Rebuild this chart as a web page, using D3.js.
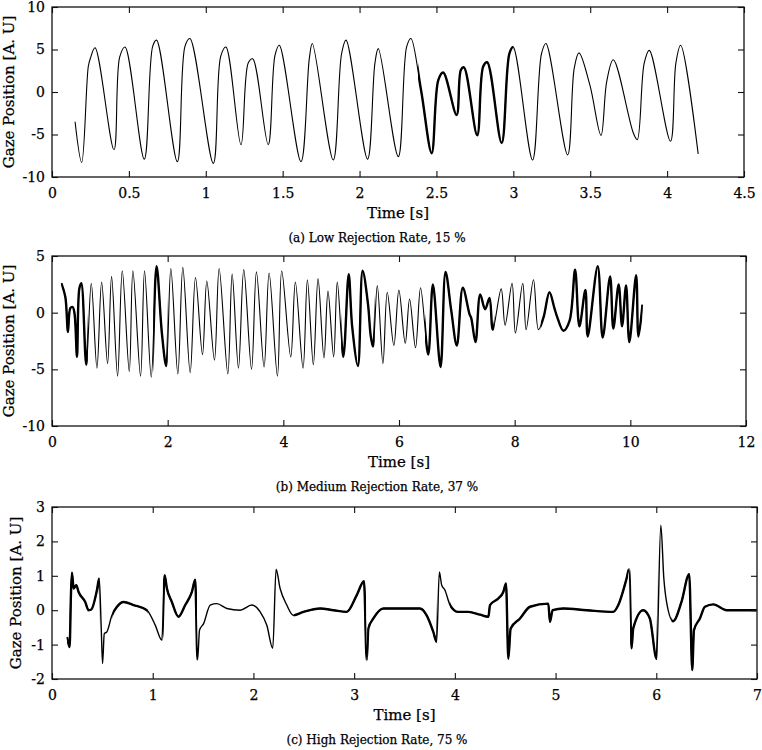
<!DOCTYPE html>
<html>
<head>
<meta charset="utf-8">
<script src="https://cdn.jsdelivr.net/npm/d3@7"></script>
<style>
    body { margin: 0; background: #fff; }
    svg { font-family: 'DejaVu Serif', serif; }
    svg text { stroke: #000; stroke-width: 0.25px; }
</style>
</head>
<body>
<svg id="chart" width="762" height="750"></svg>
<script>
// panel (a) - low rejection rate
const aTime = [0.15, 0.193, 0.236, 0.25, 0.28, 0.403, 0.44, 0.475, 0.60, 0.655, 0.68, 0.815, 0.865, 0.897,
    1.049, 1.097, 1.131, 1.229, 1.276, 1.305, 1.406, 1.45, 1.478, 1.619, 1.673, 1.693, 1.829, 1.883, 1.912,
    2.052, 2.10, 2.122, 2.252, 2.306, 2.334, 2.40, 2.469, 2.512, 2.544, 2.631, 2.659, 2.679, 2.765, 2.804, 2.83,
    2.924, 2.974, 2.999, 3.125, 3.183, 3.212, 3.353, 3.396, 3.427, 3.498, 3.57, 3.607, 3.65, 3.78, 3.806,
    3.851, 3.884, 4.022, 4.057, 4.088, 4.202];
const aGaze = [-3.5, -8.3, 3.0, 4.0, 5.2, -6.8, 4.1, 5.3, -7.9, 5.4, 6.1, -8.2, 5.4, 6.3,
    -8.4, 4.2, 5.3, -6.2, 3.4, 3.9, -6.2, 4.3, 5.5, -8.2, 3.9, 5.7, -8.0, 4.5, 6.1,
    -7.9, 3.4, 5.1, -7.6, 5.3, 6.3, 0.2, -7.2, 1.4, 2.3, -2.7, 2.6, 2.9, -5.1, 3.0, 3.5,
    -6.0, 4.5, 5.3, -8.0, 4.5, 5.7, -7.4, 2.8, 4.6, 0.8, -5.1, 1.2, 3.8, -4.8, -5.6,
    3.4, 4.9, -5.8, 3.4, 5.5, -7.3];
const aThick = [[2.38, 3.0]];
const aXTicks = [0, 0.5, 1, 1.5, 2, 2.5, 3, 3.5, 4, 4.5];
const aYTicks = [-10, -5, 0, 5, 10];

// panel (b) - medium rejection rate
const bTime = [0.161, 0.23, 0.276, 0.317, 0.357, 0.39, 0.432, 0.472, 0.507, 0.593, 0.679, 0.777, 0.858, 0.961,
    1.03, 1.134, 1.215, 1.336, 1.399, 1.531, 1.60, 1.716, 1.808, 1.90, 1.975, 2.055, 2.176, 2.262, 2.389,
    2.481, 2.602, 2.677, 2.809, 2.89, 3.04, 3.115, 3.224, 3.316, 3.45, 3.535, 3.667, 3.754, 3.898, 3.972,
    4.128, 4.208, 4.341, 4.416, 4.519, 4.60, 4.703, 4.772, 4.87, 4.933, 5.037, 5.13, 5.19, 5.29, 5.371,
    5.463, 5.51, 5.55, 5.625, 5.722, 5.797, 5.911, 5.998, 6.108, 6.183, 6.286, 6.373, 6.505, 6.586, 6.718,
    6.805, 6.903, 7.0, 7.103, 7.218, 7.25, 7.323, 7.404, 7.489, 7.565, 7.622, 7.767, 7.834, 7.955, 8.013,
    8.14, 8.198, 8.325, 8.411, 8.50, 8.601, 8.687, 8.73, 8.843, 8.95, 9.045, 9.119, 9.223, 9.263, 9.436,
    9.522, 9.65, 9.706, 9.798, 9.857, 9.926, 9.983, 10.1, 10.14, 10.21];
const bGaze = [2.6, 1.4, -1.7, 0.4, 0.5, -0.1, -3.9, 2.1, 2.6, -4.6, 2.6, -4.9, 2.7, -4.5,
    3.2, -5.6, 3.7, -5.2, 3.7, -5.6, 3.7, -5.7, 4.1, -1.8, -4.7, 3.9, -5.4, 4.0, -5.3,
    3.1, -3.7, 2.8, -4.2, 3.9, -5.4, 3.4, -4.9, 3.8, -5.0, 3.6, -4.8, 3.5, -5.6, 3.7,
    -3.9, 2.7, -4.9, 2.9, -4.6, 3.0, -4.0, 1.9, -3.9, 2.7, -3.9, 3.4, -1.2, -4.7, 3.7,
    0.8, -2.0, -3.0, 2.4, -4.5, 1.8, -2.9, 2.0, -2.7, 1.2, -3.1, 2.2, -3.7, 2.5, -4.8,
    3.6, 0.2, -2.9, 2.2, -0.1, -0.5, -2.6, 1.6, 0.3, 1.3, -1.5, 2.1, -1.1, 2.6, -1.8,
    2.6, -1.5, 2.9, -1.5, -0.4, 1.8, 0.4, -0.3, -1.6, -0.7, 3.8, -1.2, 2.0, -2.1, 4.1,
    -2.2, 3.2, -1.4, 2.5, -1.2, 2.4, -2.6, 3.3, -2.1, 0.7];
const bThick = [[0.16, 0.62], [1.75, 2.0], [5.0, 5.58], [6.45, 7.65], [8.45, 10.21]];
const bXTicks = [0, 2, 4, 6, 8, 10, 12];
const bYTicks = [-10, -5, 0, 5];

// panel (c) - high rejection rate
const cTime = [0.149, 0.175, 0.188, 0.198, 0.215, 0.241, 0.264, 0.33, 0.363, 0.39, 0.446, 0.469, 0.489, 0.502,
    0.519, 0.545, 0.595, 0.645, 0.711, 0.81, 0.943, 1.026, 1.091, 1.118, 1.141, 1.19, 1.256, 1.323, 1.389,
    1.422, 1.445, 1.465, 1.505, 1.571, 1.637, 1.736, 1.869, 1.984, 2.067, 2.133, 2.192, 2.225, 2.265, 2.331,
    2.397, 2.497, 2.662, 2.794, 2.926, 3.026, 3.098, 3.125, 3.141, 3.191, 3.29, 3.654, 3.72, 3.786, 3.819,
    3.846, 3.869, 3.902, 3.952, 4.034, 4.134, 4.25, 4.333, 4.349, 4.431, 4.481, 4.508, 4.531, 4.554, 4.647,
    4.746, 4.928, 4.944, 4.971, 5.077, 5.308, 5.573, 5.623, 5.705, 5.731, 5.754, 5.771, 5.87, 5.936, 6.003,
    6.045, 6.075, 6.102, 6.167, 6.25, 6.327, 6.357, 6.374, 6.433, 6.483, 6.566, 6.698, 6.996];
const cGaze = [-0.78, -1.07, 0.44, 1.09, 0.63, 0.73, 0.53, 0.24, 0.0, 0.02, 0.58, 0.92, -0.53, -1.55,
    -0.68, -0.63, -0.15, 0.1, 0.24, 0.15, 0.0, -0.44, -0.87, 1.02, 0.63, 0.24, -0.19, 0.15, 0.53,
    0.89, -1.45, -0.58, -0.39, 0.15, 0.19, 0.05, 0.0, 0.15, -0.05, -0.44, -1.11, 1.19, 0.63, 0.15,
    -0.15, -0.05, 0.05, 0.0, -0.05, 0.44, 0.84, -1.45, -0.53, -0.24, 0.05, 0.05, -0.15, -0.63, -0.92,
    1.11, 0.73, 0.58, 0.15, -0.05, -0.05, -0.13, -0.19, 0.15, 0.34, 0.53, 0.78, -1.41, -0.53, -0.24,
    0.1, 0.19, -0.34, 0.0, 0.05, 0.0, -0.05, 0.15, 0.92, 1.21, -1.11, -0.53, 0.0, -0.24, -1.41,
    2.47, 0.92, 0.24, -0.32, 0.24, 1.05, -1.74, -0.58, -0.24, 0.1, 0.17, 0.0, 0.0];
const cThick = [[0.15, 0.47], [0.6, 0.95], [1.1, 1.44], [2.4, 3.12], [3.13, 3.82], [3.95, 5.72],
    [5.74, 6.01], [6.15, 7.0]];
const cXTicks = [0, 1, 2, 3, 4, 5, 6, 7];
const cYTicks = [-2, -1, 0, 1, 2, 3];

const captions = ['(a) Low Rejection Rate, 15 %', '(b) Medium Rejection Rate, 37 %', '(c) High Rejection Rate, 75 %'];

const SVG_ITEM = d3.select('#chart');
const TICK = 6;

const panels = [
    { t: aTime, v: aGaze, thick: aThick, xt: aXTicks, yt: aYTicks, left: 52, right: 744, top: 7, bottom: 177,
        labelX: 14, thin: 1.1, curve: d3.curveCatmullRom.alpha(0.5), caption: captions[0] },
    { t: bTime, v: bGaze, thick: bThick, xt: bXTicks, yt: bYTicks, left: 52, right: 746, top: 256, bottom: 426,
        labelX: 14, thin: 1.1, curve: d3.curveCatmullRom.alpha(0.5), caption: captions[1] },
    { t: cTime, v: cGaze, thick: cThick, xt: cXTicks, yt: cYTicks, left: 52, right: 757, top: 507, bottom: 679,
        labelX: 21, thin: 1.4, curve: d3.curveMonotoneX, caption: captions[2] }
];

panels.forEach((p, i) => drawPanel(SVG_ITEM, p, i));

function drawPanel(svg, p, idx) {
    const data = p.t.map((t, i) => [t, p.v[i]]);
    const xScale = d3.scaleLinear().domain([p.xt[0], p.xt[p.xt.length - 1]]).range([p.left, p.right]);
    const yScale = d3.scaleLinear().domain([p.yt[0], p.yt[p.yt.length - 1]]).range([p.bottom, p.top]);
    const fmt = (d) => String(d);

    const g = svg.append('g');

    // signal: thin everywhere, thick on the marked intervals
    const line = d3.line().x((d) => xScale(d[0])).y((d) => yScale(d[1])).curve(p.curve);
    g.append('path')
        .attr('d', line(data))
        .attr('fill', 'none')
        .attr('stroke', '#000')
        .attr('stroke-width', p.thin)
        .attr('stroke-linejoin', 'round');

    const clipId = 'thick-' + idx;
    const clip = svg.append('clipPath').attr('id', clipId);
    p.thick.forEach((r) => {
        clip.append('rect')
            .attr('x', xScale(r[0]))
            .attr('y', p.top - 10)
            .attr('width', xScale(r[1]) - xScale(r[0]))
            .attr('height', p.bottom - p.top + 20);
    });
    g.append('path')
        .attr('d', line(data))
        .attr('clip-path', 'url(#' + clipId + ')')
        .attr('fill', 'none')
        .attr('stroke', '#000')
        .attr('stroke-width', 2.4)
        .attr('stroke-linejoin', 'round');

    // axes, ticks pointing inward on all four sides
    const styleAxis = (sel) => {
        sel.select('.domain').remove();
        sel.selectAll('line').attr('stroke', '#111').attr('stroke-width', 1.1);
        sel.selectAll('text').attr('fill', '#000').style('font-size', '14px').style('font-family', 'DejaVu Serif, serif');
    };
    g.append('g').attr('transform', 'translate(0,' + p.bottom + ')')
        .call(d3.axisBottom(xScale).tickValues(p.xt).tickFormat(fmt).tickSizeInner(-TICK).tickSizeOuter(0).tickPadding(11))
        .call(styleAxis);
    g.append('g').attr('transform', 'translate(0,' + p.top + ')')
        .call(d3.axisTop(xScale).tickValues(p.xt).tickFormat('').tickSizeInner(-TICK).tickSizeOuter(0))
        .call(styleAxis);
    g.append('g').attr('transform', 'translate(' + p.left + ',0)')
        .call(d3.axisLeft(yScale).tickValues(p.yt).tickFormat(fmt).tickSizeInner(-TICK).tickSizeOuter(0).tickPadding(7))
        .call(styleAxis);
    g.append('g').attr('transform', 'translate(' + p.right + ',0)')
        .call(d3.axisRight(yScale).tickValues(p.yt).tickFormat('').tickSizeInner(-TICK).tickSizeOuter(0))
        .call(styleAxis);

    g.append('rect')
        .attr('x', p.left).attr('y', p.top)
        .attr('width', p.right - p.left).attr('height', p.bottom - p.top)
        .attr('fill', 'none').attr('stroke', '#111').attr('stroke-width', 1.3);

    g.append('text')
        .attr('x', (p.left + p.right) / 2)
        .attr('y', p.bottom + 41)
        .attr('text-anchor', 'middle')
        .style('font-size', '15px')
        .text('Time [s]');

    g.append('text')
        .attr('transform', 'translate(' + p.labelX + ',' + (p.top + p.bottom) / 2 + ') rotate(-90)')
        .attr('text-anchor', 'middle')
        .style('font-size', '15px')
        .text('Gaze Position [A. U]');

    g.append('text')
        .attr('x', 377)
        .attr('y', p.bottom + 65)
        .attr('text-anchor', 'middle')
        .style('font-size', '12px')
        .text(p.caption);
}
</script>
</body>
</html>
